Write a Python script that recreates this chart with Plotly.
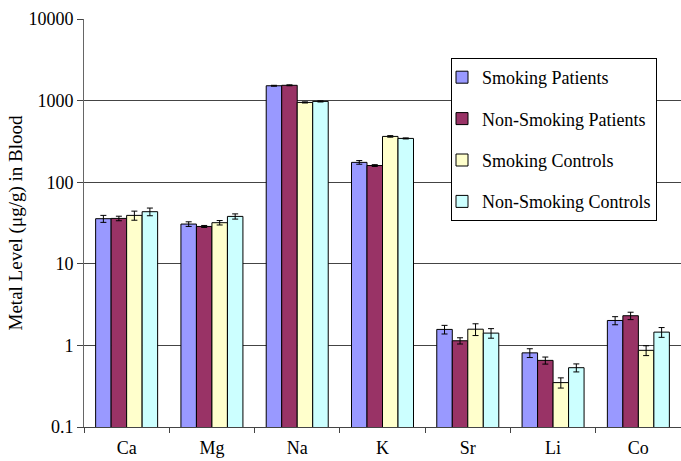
import plotly.graph_objects as go

categories = ["Ca", "Mg", "Na", "K", "Sr", "Li", "Co"]
series_names = ["Smoking Patients", "Non-Smoking Patients", "Smoking Controls", "Non-Smoking Controls"]
smoking_patients = [35.7, 30.7, 1520, 175, 1.57, 0.81, 2.02]
nonsmoking_patients = [36.0, 28.7, 1540, 160, 1.14, 0.655, 2.31]
smoking_controls = [39.2, 31.9, 950, 364, 1.58, 0.35, 0.87]
nonsmoking_controls = [43.5, 38.1, 977, 344, 1.415, 0.533, 1.455]
err_sp = [3.5, 2.0, 20, 9, 0.19, 0.10, 0.23]
err_nsp = [2.3, 0.8, 20, 4, 0.10, 0.065, 0.24]
err_sc = [5.0, 2.0, 15, 8, 0.26, 0.05, 0.12]
err_nsc = [4.7, 2.8, 15, 5, 0.19, 0.06, 0.20]
colors = ["#9999FF", "#993366", "#FFFFCC", "#CCFFFF"]
tick_vals = [0.1, 1, 10, 100, 1000, 10000]
tick_text = ["0.1", "1", "10", "100", "1000", "10000"]

values = [smoking_patients, nonsmoking_patients, smoking_controls, nonsmoking_controls]
errors = [err_sp, err_nsp, err_sc, err_nsc]

FONT = "Liberation Serif, Times New Roman, serif"

fig = go.Figure()
for i, name in enumerate(series_names):
    fig.add_trace(go.Bar(
        x=categories, y=values[i], name=name,
        legendgroup=name,
        marker=dict(color=colors[i], line=dict(color="black", width=1)),
        error_y=dict(type="data", array=errors[i], visible=True,
                     color="black", thickness=1, width=3),
    ))

fig.update_layout(
    width=681, height=461,
    margin=dict(l=84, r=0, t=19, b=34),
    paper_bgcolor="white", plot_bgcolor="white",
    barmode="group", bargap=0.273, bargroupgap=0,
    font=dict(family=FONT, size=18, color="black"),
    legend=dict(
        x=(451 - 84) / 597, y=(427 - 58) / 408, xanchor="left", yanchor="top",
        bgcolor="white", bordercolor="black", borderwidth=1,
        font=dict(family=FONT, size=18, color="black"),
        traceorder="grouped", tracegroupgap=15, itemwidth=30,
        indentation=-10,
    ),
    showlegend=True,
)
fig.update_xaxes(
    type="category", showline=True, linecolor="#444", linewidth=1,
    ticks="outside", ticklen=5, tickcolor="#444", tickson="boundaries",
    showgrid=False, tickfont=dict(family=FONT, size=18),
    ticklabelstandoff=4, automargin=False,
)
fig.update_yaxes(
    type="log", range=[-1, 4], tickvals=tick_vals, ticktext=tick_text,
    showline=True, linecolor="#666", linewidth=1,
    ticks="outside", ticklen=6, tickcolor="#444",
    showgrid=True, gridcolor="#444", gridwidth=1,
    zeroline=False, automargin=False,
    tickfont=dict(family=FONT, size=18),
    title=dict(text="Metal Level (μg/g) in Blood", font=dict(family=FONT, size=19), standoff=0),
)

fig.write_html("out.html")
